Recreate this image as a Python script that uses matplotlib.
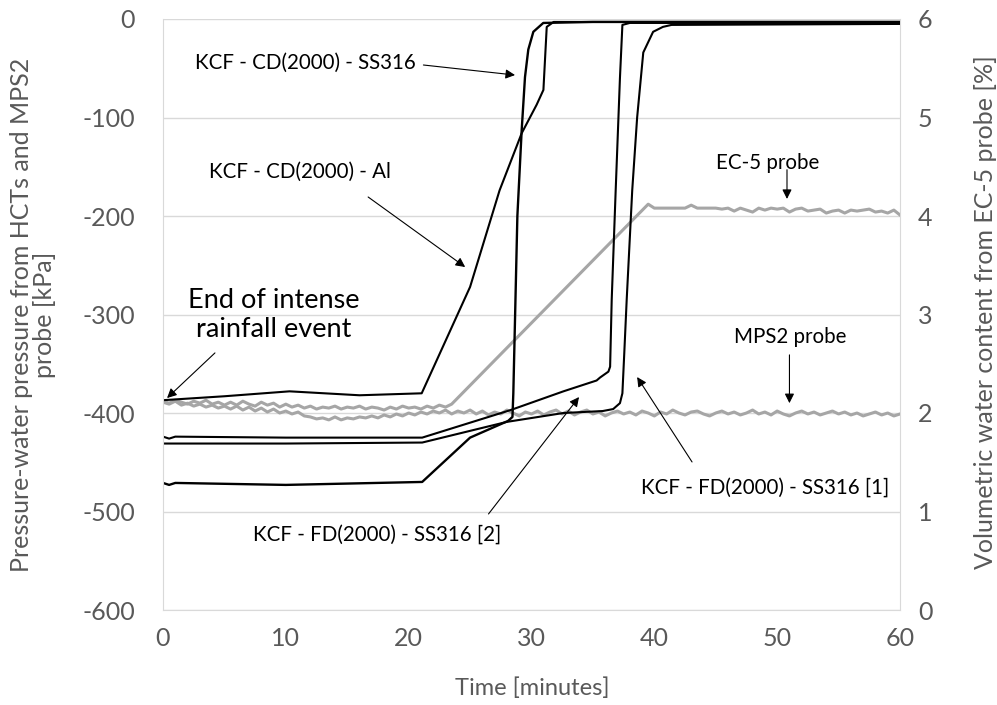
import numpy as np
import matplotlib
matplotlib.use("Agg")
import matplotlib.pyplot as plt

plt.rcParams['font.family'] = ['Lato', 'DejaVu Sans']
plt.rcParams['axes.unicode_minus'] = False

# ---- data ----
# KCF - CD(2000) - Al
al_t = [0, 5, 10.3, 16, 21.06, 25.0, 27.4, 29.2, 30.42, 30.97, 31.24, 31.8, 40, 50, 60]
al_p = [-387, -383, -378, -382, -380, -272, -174, -116, -87, -72, -8, -3, -3, -3, -3]

# KCF - CD(2000) - SS316
cd_t = [0, 0.5, 1, 10, 21.1, 25.0, 28.1, 28.45, 28.52, 28.85, 29.2, 29.47, 29.74, 30.15, 30.96, 35, 60]
cd_p = [-471, -473, -471, -473, -470, -425, -408, -404, -380, -200, -113, -59, -31, -13, -4, -3, -3]

# KCF - FD(2000) - SS316 [2]
fd2_t = [0, 0.5, 1, 10, 21.1, 28.3, 32.6, 35.3, 35.58, 36.26, 36.4, 36.53, 36.85, 37.2, 37.4, 38, 60]
fd2_p = [-424, -426, -424, -425, -425, -397, -378, -367, -364, -358, -353, -285, -175, -60, -6, -4, -4]

# KCF - FD(2000) - SS316 [1]
fd1_t = [0, 10, 21.1, 28, 32.6, 35.8, 36.65, 37.2, 37.4, 37.55, 37.75, 38.2, 38.6, 39.1, 39.9, 40.7, 41.4, 60]
fd1_p = [-431, -431, -430, -409, -400, -398, -396, -390, -380, -340, -285, -174, -100, -34, -13, -8, -6, -5]

# MPS2 probe, every 0.5 min
mps2_t = np.arange(0, 60.5, 0.5)
mps2_p = [-389, -391, -388, -392, -390, -393, -391, -394, -392, -395, -393,
          -396, -393, -397, -394, -398, -395, -399, -396, -400, -398,
          -401, -399, -403, -404, -406, -405, -407, -404, -407, -405,
          -406, -404, -405, -403, -405, -402, -404, -401, -403, -400,
          -402, -399, -401, -398, -400, -397, -401, -398, -400, -397,
          -401, -398, -402, -399, -401, -397, -400, -403, -399, -401,
          -398, -402, -399, -397, -401, -398, -402, -399, -397, -401,
          -399, -403, -400, -398, -401, -399, -402, -398, -400, -403,
          -399, -401, -397, -400, -402, -399, -398, -401, -403, -400,
          -398, -401, -399, -402, -400, -397, -401, -399, -402, -398,
          -401, -403, -400, -398, -401, -399, -402, -400, -398, -401,
          -399, -402, -400, -403, -401, -399, -402, -400, -403, -401]

# EC-5 probe [%]
ec5_t = list(np.arange(0, 23.5, 0.5)) + [23.5, 39.5] + list(np.arange(40, 60.5, 0.5))
ec5_v = [2.12, 2.10, 2.13, 2.11, 2.09, 2.12, 2.10, 2.13, 2.09, 2.11, 2.08,
         2.11, 2.08, 2.12, 2.09, 2.07, 2.11, 2.08, 2.10, 2.06, 2.09,
         2.06, 2.08, 2.05, 2.07, 2.04, 2.06, 2.05, 2.07, 2.04, 2.06,
         2.05, 2.07, 2.04, 2.06, 2.05, 2.03, 2.06, 2.04, 2.07, 2.05,
         2.06, 2.04, 2.07, 2.05, 2.08, 2.06,
         2.09, 4.12,
         4.08, 4.08, 4.08, 4.08, 4.08, 4.08, 4.11, 4.08, 4.08, 4.08,
         4.08, 4.07, 4.08, 4.05, 4.08, 4.06, 4.04, 4.08, 4.06, 4.08,
         4.07, 4.08, 4.04, 4.07, 4.08, 4.05, 4.06, 4.07, 4.03, 4.05,
         4.06, 4.03, 4.06, 4.05, 4.06, 4.07, 4.04, 4.05, 4.03, 4.06,
         4.01]

xticks = [0, 10, 20, 30, 40, 50, 60]
yticks = [-600, -500, -400, -300, -200, -100, 0]
y2ticks = [0, 1, 2, 3, 4, 5, 6]

grey_txt = '#595959'
grid_c = '#d9d9d9'
probe_c = '#a6a6a6'

fig = plt.figure(figsize=(9.97, 7.05), dpi=100)
ax = fig.add_axes([163/997, 1-610/705, 737/997, 591/705])
ax2 = ax.twinx()
ax2.set_zorder(ax.get_zorder() - 1)
ax.patch.set_visible(False)

# grid lives on the secondary axis so the lines sit on top of it
ax2.set_xlim(0, 60)
ax2.set_ylim(0, 6)
ax2.set_yticks(y2ticks)
ax2.grid(True, color=grid_c, lw=1)
ax2.set_axisbelow(True)
ax2.plot(ec5_t, ec5_v, color=probe_c, lw=2.2)

ax.plot(mps2_t, mps2_p, color=probe_c, lw=2.2)
ax.plot(al_t, al_p, color='black', lw=1.5)
ax.plot(cd_t, cd_p, color='black', lw=1.7)
ax.plot(fd2_t, fd2_p, color='black', lw=1.5)
ax.plot(fd1_t, fd1_p, color='black', lw=1.5)

ax.set_xlim(0, 60)
ax.set_ylim(-600, 0)
ax.set_xticks(xticks)
ax.set_yticks(yticks)

for a in (ax, ax2):
    for s in a.spines.values():
        s.set_visible(False)
ax.spines['left'].set_visible(True)
ax.spines['left'].set_color(grid_c)
ax.spines['bottom'].set_visible(True)
ax.spines['bottom'].set_color(grid_c)
ax2.spines['right'].set_visible(True)
ax2.spines['right'].set_color(grid_c)

ax.tick_params(axis='y', length=0, pad=20, labelsize=18, labelcolor=grey_txt)
ax.tick_params(axis='x', length=0, pad=12, labelsize=18, labelcolor=grey_txt)
ax2.tick_params(axis='y', length=0, pad=13, labelsize=18, labelcolor=grey_txt)

fig.text(33/997, 1-315/705, 'Pressure-water pressure from HCTs and MPS2\nprobe [kPa]',
         rotation=90, ha='center', va='center', multialignment='center',
         fontsize=18, color=grey_txt, linespacing=1.05)
fig.text(985/997, 1-312/705, 'Volumetric water content from EC-5 probe [%]',
         rotation=90, ha='center', va='center', fontsize=18, color=grey_txt)
fig.text(532/997, 1-688/705, 'Time [minutes]', ha='center', va='center',
         fontsize=17, color=grey_txt)

arrow = dict(arrowstyle='-|>', color='black', lw=0.8, mutation_scale=14,
             shrinkA=0, shrinkB=0)

ann = 14.8
ax.text(11.56, -44.7, 'KCF - CD(2000) - SS316', ha='center', va='center', fontsize=ann)
ax.annotate('', xy=(28.66, -56.9), xytext=(21.2, -46.7), arrowprops=arrow)

ax.text(11.15, -155, 'KCF - CD(2000) - Al', ha='center', va='center', fontsize=ann)
ax.annotate('', xy=(24.6, -251.8), xytext=(16.7, -180.7), arrowprops=arrow)

ax.text(9.04, -300.5, 'End of intense\nrainfall event', ha='center', va='center',
        fontsize=19.5, linespacing=1.2)
ax.annotate('', xy=(0.33, -384.8), xytext=(4.23, -339), arrowprops=arrow)

ax.text(49.2, -146, 'EC-5 probe', ha='center', va='center', fontsize=ann)
ax.annotate('', xy=(50.8, -182.7), xytext=(50.8, -153), arrowprops=arrow)

ax.text(51.05, -323, 'MPS2 probe', ha='center', va='center', fontsize=ann)
ax.annotate('', xy=(51.0, -390), xytext=(51.0, -341), arrowprops=arrow)

ax.text(49.0, -476, 'KCF - FD(2000) - SS316 [1]', ha='center', va='center', fontsize=ann)
ax.annotate('', xy=(38.6, -363.5), xytext=(43.07, -449.7), arrowprops=arrow)

ax.text(17.4, -523.9, 'KCF - FD(2000) - SS316 [2]', ha='center', va='center', fontsize=ann)
ax.annotate('', xy=(33.87, -383.8), xytext=(26.5, -502.5), arrowprops=arrow)

fig.savefig('out.png', dpi=100)
